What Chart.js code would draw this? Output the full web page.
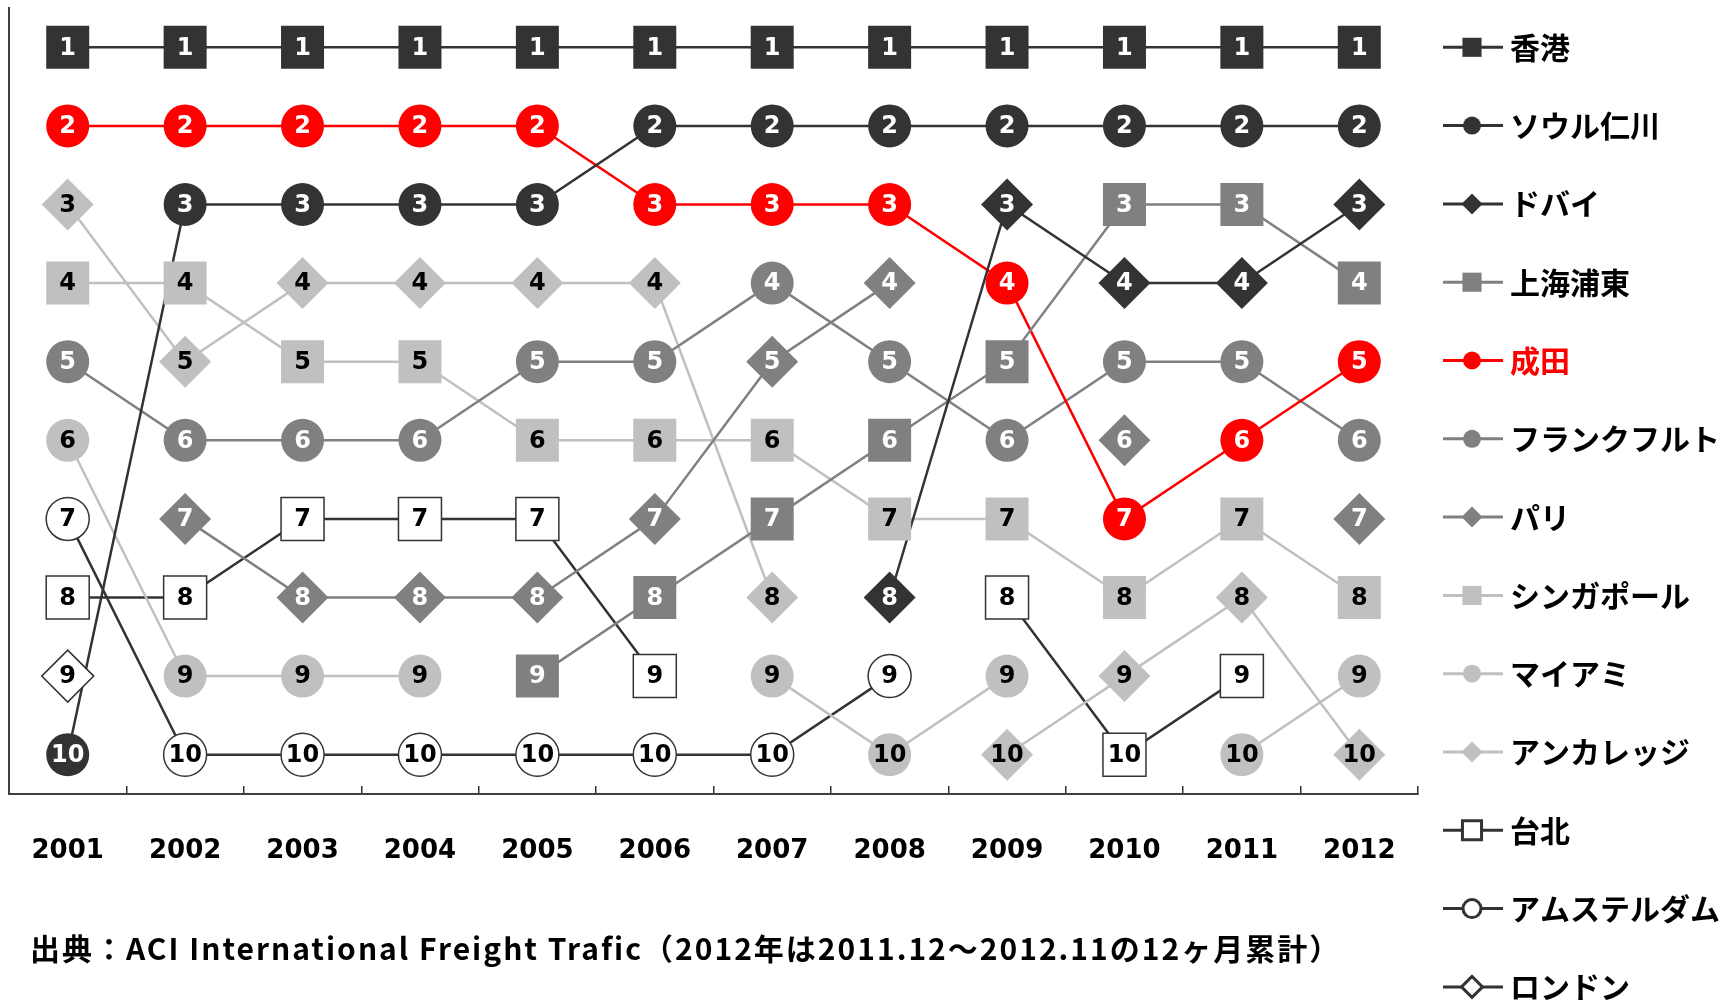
<!DOCTYPE html>
<html lang="ja">
<head>
<meta charset="UTF-8">
<title>国際貨物取扱量ランキング</title>
<script src="https://cdn.jsdelivr.net/npm/chart.js@4.4.1/dist/chart.umd.min.js"></script>
<style>
  body { margin: 0; background: #fff; }
  #wrap { position: relative; width: 1728px; height: 1001px; }
  #note {
    position: absolute; left: 30px; top: 929px;
    font: bold 30px "Noto Sans CJK JP", sans-serif; line-height: 1.2;
    letter-spacing: 2px; color: #000; white-space: nowrap;
  }
</style>
</head>
<body>
<div id="wrap">
  <canvas id="rankChart"></canvas>
  <div id="note">出典：ACI International Freight Trafic（2012年は2011.12～2012.11の12ヶ月累計）</div>
</div>
<script>
// 年
const years = ['2001', '2002', '2003', '2004', '2005', '2006', '2007', '2008', '2009', '2010', '2011', '2012'];
// 空港名（凡例の順）
const airports = ['香港', 'ソウル仁川', 'ドバイ', '上海浦東', '成田', 'フランクフルト', 'パリ',
  'シンガポール', 'マイアミ', 'アンカレッジ', '台北', 'アムステルダム', 'ロンドン'];

// 各年の順位（圏外は null）
const hongKong  = [1, 1, 1, 1, 1, 1, 1, 1, 1, 1, 1, 1];
const seoul     = [10, 3, 3, 3, 3, 2, 2, 2, 2, 2, 2, 2];
const dubai     = [null, null, null, null, null, null, null, 8, 3, 4, 4, 3];
const shanghai  = [null, null, null, null, 9, 8, 7, 6, 5, 3, 3, 4];
const narita    = [2, 2, 2, 2, 2, 3, 3, 3, 4, 7, 6, 5];
const frankfurt = [5, 6, 6, 6, 5, 5, 4, 5, 6, 5, 5, 6];
const paris     = [null, 7, 8, 8, 8, 7, 5, 4, null, 6, null, 7];
const singapore = [4, 4, 5, 5, 6, 6, 6, 7, 7, 8, 7, 8];
const miami     = [6, 9, 9, 9, null, null, 9, 10, 9, null, 10, 9];
const anchorage = [3, 5, 4, 4, 4, 4, 8, null, 10, 9, 8, 10];
const taipei    = [8, 8, 7, 7, 7, 9, null, null, 8, 10, 9, null];
const amsterdam = [7, 10, 10, 10, 10, 10, 10, 9, null, null, null, null];
const london    = [9, null, null, null, null, null, null, null, null, null, null, null];

const ranks = [hongKong, seoul, dubai, shanghai, narita, frankfurt, paris,
  singapore, miami, anchorage, taipei, amsterdam, london];

// 見た目
const DARK = '#333333', MID = '#808080', LIGHT = '#c0c0c0', RED = '#ff0000', WHITE = '#ffffff';
const looks = [
  { line: DARK,  fill: DARK,  shape: 'rect',    num: WHITE },
  { line: DARK,  fill: DARK,  shape: 'circle',  num: WHITE },
  { line: DARK,  fill: DARK,  shape: 'rectRot', num: WHITE },
  { line: MID,   fill: MID,   shape: 'rect',    num: WHITE },
  { line: RED,   fill: RED,   shape: 'circle',  num: WHITE },
  { line: MID,   fill: MID,   shape: 'circle',  num: WHITE },
  { line: MID,   fill: MID,   shape: 'rectRot', num: WHITE },
  { line: LIGHT, fill: LIGHT, shape: 'rect',    num: '#000' },
  { line: LIGHT, fill: LIGHT, shape: 'circle',  num: '#000' },
  { line: LIGHT, fill: LIGHT, shape: 'rectRot', num: '#000' },
  { line: DARK,  fill: WHITE, shape: 'rect',    num: '#000' },
  { line: DARK,  fill: WHITE, shape: 'circle',  num: '#000' },
  { line: DARK,  fill: WHITE, shape: 'rectRot', num: '#000' }
];
const markerSize = { rect: 30.4, circle: 21.5, rectRot: 26 };
const legendSize = { rect: 13.5, circle: 9, rectRot: 10.5 };
const legendStep = 78.3;

// 線（下）とマーカー（上）を別々のデータセットにする
const datasets = [];
ranks.forEach((data, i) => {
  datasets.push({
    label: airports[i], data: data, order: 2,
    borderColor: looks[i].line, borderWidth: 2.5, pointRadius: 0, spanGaps: false
  });
});
ranks.forEach((data, i) => {
  const s = looks[i];
  datasets.push({
    label: airports[i], data: data, order: 1, showLine: false, isMarker: true, numColor: s.num,
    pointStyle: s.shape, pointRadius: markerSize[s.shape],
    pointBackgroundColor: s.fill, pointBorderColor: DARK,
    pointBorderWidth: s.fill === WHITE ? 1.5 : 0
  });
});

// 順位の数字をマーカーの上に書く
const rankNumbers = {
  id: 'rankNumbers',
  afterDatasetsDraw(chart) {
    const ctx = chart.ctx;
    ctx.save();
    ctx.font = 'bold 24px "DejaVu Sans"';
    ctx.textAlign = 'center';
    ctx.textBaseline = 'middle';
    chart.data.datasets.forEach((ds, di) => {
      if (!ds.isMarker) return;
      chart.getDatasetMeta(di).data.forEach((pt, j) => {
        if (ds.data[j] == null) return;
        ctx.fillStyle = ds.numColor;
        ctx.fillText(String(ds.data[j]), pt.x, pt.y + 1);
      });
    });
    ctx.restore();
  }
};

// 右側の凡例
const sideLegend = {
  id: 'sideLegend',
  afterDraw(chart) {
    const ctx = chart.ctx;
    const top = chart.scales.y.getPixelForValue(1);
    ctx.save();
    airports.forEach((name, i) => {
      const s = looks[i];
      const y = top + i * legendStep;
      ctx.strokeStyle = s.line;
      ctx.lineWidth = 3;
      ctx.beginPath();
      ctx.moveTo(1443, y);
      ctx.lineTo(1503, y);
      ctx.stroke();
      ctx.fillStyle = s.fill;
      ctx.strokeStyle = DARK;
      Chart.helpers.drawPoint(ctx, {
        pointStyle: s.shape, radius: legendSize[s.shape], rotation: 0,
        borderWidth: s.fill === WHITE ? 1.5 : 0
      }, 1472, y);
      ctx.fillStyle = name === '成田' ? RED : '#000';
      ctx.font = 'bold 30px "Noto Sans CJK JP"';
      ctx.textAlign = 'left';
      ctx.textBaseline = 'middle';
      ctx.fillText(name, 1510, y);
    });
    ctx.restore();
  }
};

new Chart(document.getElementById('rankChart'), {
  type: 'line',
  data: { labels: years, datasets: datasets },
  plugins: [rankNumbers, sideLegend],
  options: {
    responsive: true,
    maintainAspectRatio: false,
    animation: false,
    events: [],
    layout: { autoPadding: false, padding: { left: 9, right: 310, top: 8, bottom: 85 } },
    plugins: { legend: { display: false }, tooltip: { enabled: false } },
    scales: {
      x: {
        offset: true,
        grid: { display: true, offset: true, drawOnChartArea: false, drawTicks: true, tickLength: -8, color: DARK, lineWidth: 1.5 },
        border: { display: true, color: '#404040', width: 2 },
        ticks: { color: '#000', padding: 18, font: { family: 'DejaVu Sans', size: 26, weight: 'bold', lineHeight: 3.615 } }
      },
      y: {
        reverse: true, min: 0.5, max: 10.5,
        grid: { display: false, drawTicks: false },
        border: { display: true, color: '#404040', width: 2 },
        ticks: { display: false }
      }
    }
  }
});
</script>
</body>
</html>
